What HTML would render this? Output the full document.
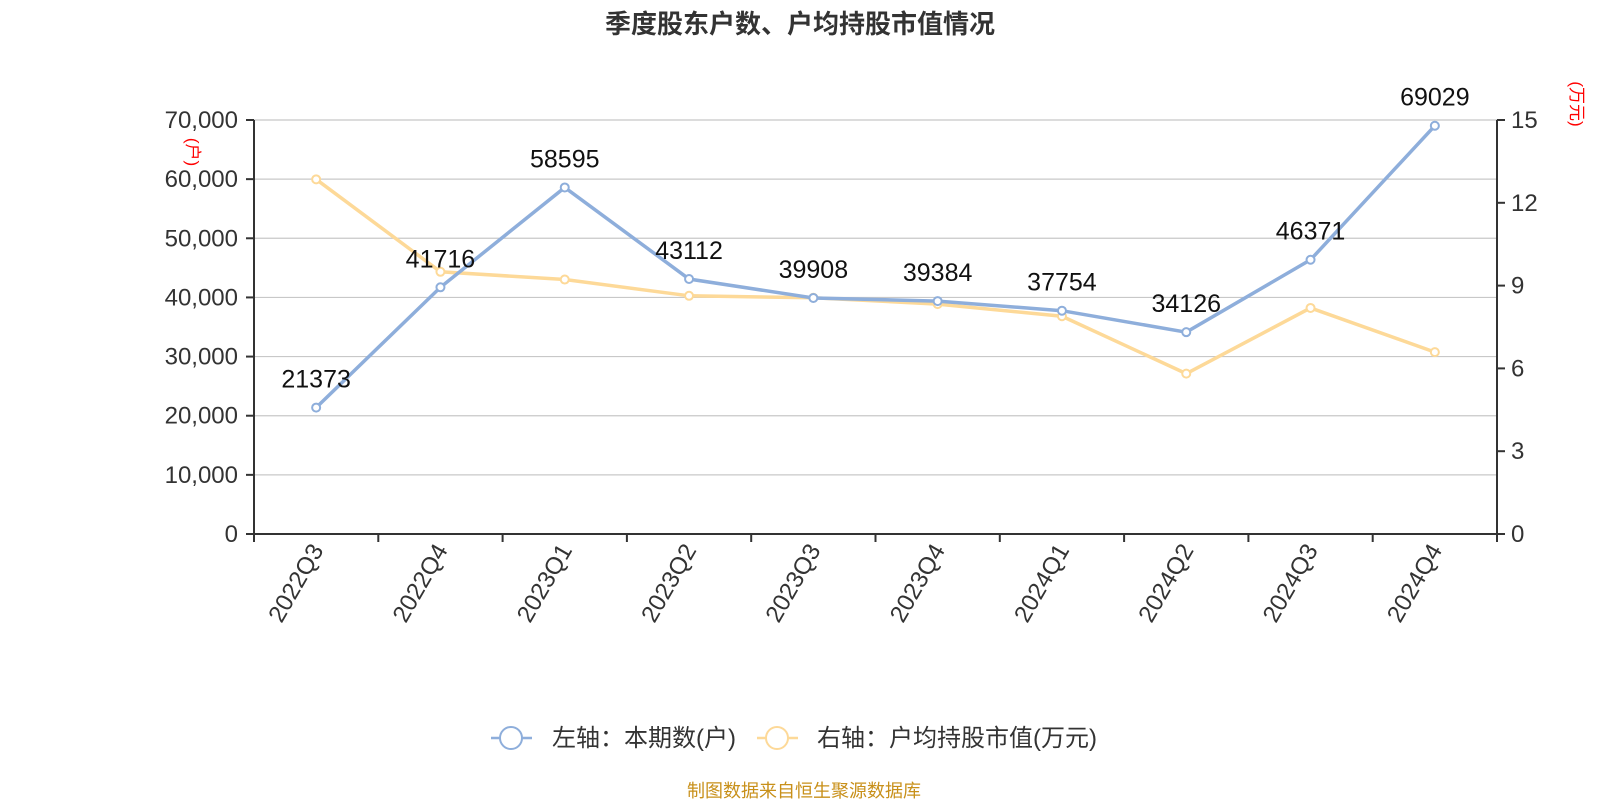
<!DOCTYPE html>
<html><head><meta charset="utf-8"><style>
body{margin:0;background:#fff}
svg text{font-family:"Liberation Sans","Noto Sans CJK SC",sans-serif}
</style></head><body>
<svg width="1600" height="800" viewBox="0 0 1600 800">
<text x="800" y="33" text-anchor="middle" font-size="26" font-weight="bold" fill="#333">季度股东户数、户均持股市值情况</text>
<g id="grid"></g><g id="axes"></g><g id="series"></g>
<text transform="translate(187,152) rotate(90)" text-anchor="middle" font-size="17" fill="#f00">(户)</text>
<text transform="translate(1571,104) rotate(90)" text-anchor="middle" font-size="17" fill="#f00">(万元)</text>
<g>
<g>
<line x1="491" y1="738" x2="532" y2="738" stroke="#8eaedb" stroke-width="2.5"/>
<circle cx="511" cy="738" r="11" fill="#fff" stroke="#8eaedb" stroke-width="2"/>
<text x="552" y="746" font-size="24" fill="#333">左轴：本期数(户)</text></g>
<g>
<line x1="757" y1="738" x2="798" y2="738" stroke="#fdd998" stroke-width="2.5"/>
<circle cx="777" cy="738" r="11" fill="#fff" stroke="#fdd998" stroke-width="2"/>
<text x="817" y="746" font-size="24" fill="#333">右轴：户均持股市值(万元)</text></g>
</g>
<text x="804" y="797" text-anchor="middle" font-size="18" fill="#c8901a">制图数据来自恒生聚源数据库</text>
</svg>
<script>
const categories=["2022Q3","2022Q4","2023Q1","2023Q2","2023Q3","2023Q4","2024Q1","2024Q2","2024Q3","2024Q4"];
const holders=[21373,41716,58595,43112,39908,39384,37754,34126,46371,69029];
const avgValue=[12.85,9.5,9.22,8.63,8.56,8.33,7.89,5.81,8.19,6.59];
const leftTicks=[0,10000,20000,30000,40000,50000,60000,70000];
const rightTicks=[0,3,6,9,12,15];
const NS="http://www.w3.org/2000/svg";
const L=254,R=1497,T=120,B=534;
const band=(R-L)/categories.length;
const xS=i=>L+band*(i+0.5);
const yL=v=>B-(v/70000)*(B-T);
const yR=v=>B-(v/15)*(B-T);
function mk(tag,attrs,parent,text){const e=document.createElementNS(NS,tag);for(const k in attrs)e.setAttribute(k,attrs[k]);if(text!==undefined)e.textContent=text;parent.appendChild(e);return e;}
const grid=document.getElementById('grid'),axes=document.getElementById('axes'),series=document.getElementById('series');
leftTicks.forEach(v=>{const y=yL(v);
 if(v>0){const g=mk('line',{x1:L,x2:R,y1:y,y2:y,stroke:'#c8c8c8','stroke-width':1.2},grid);}
 mk('line',{x1:L-8,x2:L,y1:y,y2:y,stroke:'#333','stroke-width':2},axes);
 const t=mk('text',{x:L-16,y:y+8,'text-anchor':'end','font-size':24,fill:'#333'},axes,v.toLocaleString('en-US'));
 });
rightTicks.forEach(v=>{const y=yR(v);
 mk('line',{x1:R,x2:R+8,y1:y,y2:y,stroke:'#333','stroke-width':2},axes);
 const t=mk('text',{x:R+14,y:y+8,'font-size':24,fill:'#333'},axes,String(v));
 });
mk('line',{x1:L,x2:L,y1:T,y2:B,stroke:'#333','stroke-width':2},axes);
mk('line',{x1:R,x2:R,y1:T,y2:B,stroke:'#333','stroke-width':2},axes);
mk('line',{x1:L,x2:R,y1:B,y2:B,stroke:'#333','stroke-width':2},axes);
for(let i=0;i<=categories.length;i++){const x=L+band*i;mk('line',{x1:x,x2:x,y1:B,y2:B+8,stroke:'#333','stroke-width':2},axes);}
categories.forEach((c,i)=>{const x=xS(i);
 const t=mk('text',{transform:`translate(${x+8},${B+16}) rotate(-60)`,'text-anchor':'end','font-size':24,fill:'#333'},axes,c);
 });
function line(vals,ys,color,name){
 const p=mk('polyline',{points:vals.map((v,i)=>xS(i)+','+ys(v)).join(' '),fill:'none',stroke:color,'stroke-width':3.5},series);
 
 vals.forEach((v,i)=>{const c=mk('circle',{cx:xS(i),cy:ys(v),r:4,fill:'#fff',stroke:color,'stroke-width':2},series);
  });
}
line(avgValue,yR,'#fdd998','avg-value');
line(holders,yL,'#8eaedb','holders');
holders.forEach((v,i)=>{const t=mk('text',{x:xS(i),y:yL(v)-20,'text-anchor':'middle','font-size':25,fill:'#111'},series,String(v));
 });
</script>
</body></html>
